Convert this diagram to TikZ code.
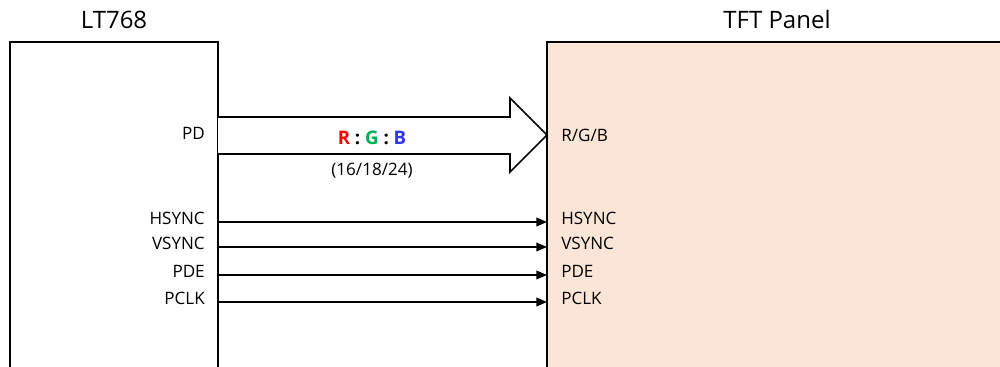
\documentclass[tikz,border=0pt]{standalone}
\usepackage{fontspec}
\setmainfont{Open Sans}
\usetikzlibrary{arrows.meta}
\definecolor{peach}{HTML}{FBE5D6}
\definecolor{rgbR}{HTML}{FF0000}
\definecolor{rgbG}{HTML}{00B050}
\definecolor{rgbB}{HTML}{3333FF}
\tikzset{
  boxline/.style={line width=1.6pt},
  title/.style={font=\fontsize{18}{21}\selectfont, inner sep=0pt},
  pin/.style={font=\fontsize{12.8}{15}\selectfont, inner sep=0pt},
  lpin/.style={pin, anchor=east},
  rpin/.style={pin, anchor=west},
  sig/.style={line width=1.1pt, -{Triangle[length=8pt,width=6.5pt]}},
  fat/.style={line width=1.2pt, line join=miter},
}
\begin{document}
\begin{tikzpicture}[x=0.75pt,y=-0.75pt]
\useasboundingbox (0,0) rectangle (1000,367);
% boxes
\fill[peach] (547,42) rectangle (1005,372);
\draw[boxline] (10,372) -- (10,42) -- (218,42) -- (218,372);
\draw[boxline] (547,372) -- (547,42) -- (1005,42);
% titles
\node[title] (lt) at (114,20) {LT768};
\node[title] (tft) at (777,20) {TFT Panel};
% fat arrow
\coordinate (fs) at (218,135);
\coordinate (fe) at (547,135);
\draw[fat,fill=white] (218,117) -- (510,117) -- (510,98) -- (fe) -- (510,172) -- (510,154) -- (218,154);
\node[pin, font=\fontsize{14}{16}\selectfont\bfseries] (rgb) at (372,138)
  {\textcolor{rgbR}{R} : \textcolor{rgbG}{G} : \textcolor{rgbB}{B}};
\node[pin] (bits) at (372,171) {(16/18/24)};
\node[lpin] (pd) at (205,133) {PD};
\node[rpin] (rgbin) at (561,135) {R/G/B};
% signals
\foreach \n/\y in {HSYNC/222,VSYNC/247,PDE/275,PCLK/302}{
  \node[lpin] (l\n) at (205,\y-4) {\n};
  \node[rpin] (r\n) at (561,\y-4) {\n};
  \coordinate (s\n) at (219,\y);
  \coordinate (e\n) at (547,\y);
  \draw[sig] (s\n) -- (e\n);
}
\end{tikzpicture}
\end{document}
